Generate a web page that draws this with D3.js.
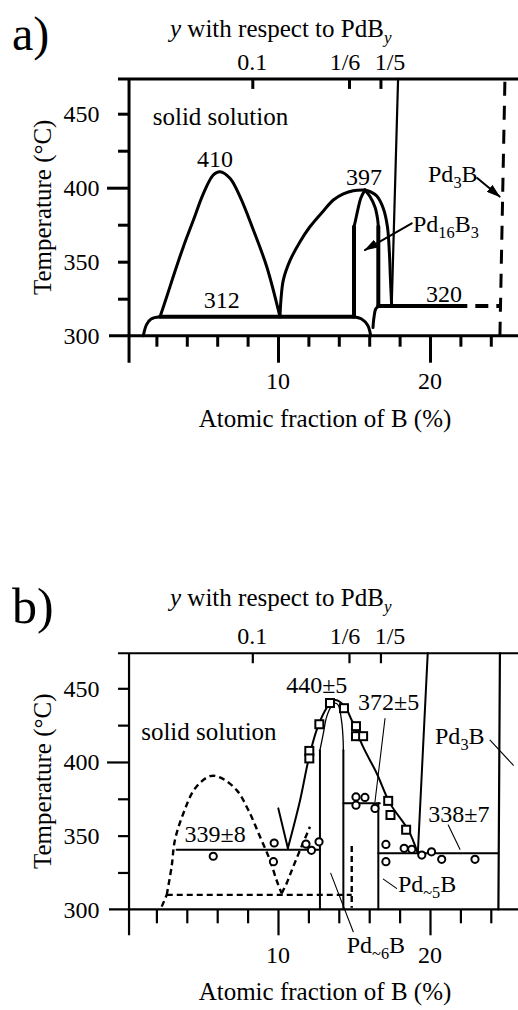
<!DOCTYPE html>
<html><head><meta charset="utf-8">
<script src="https://cdn.jsdelivr.net/npm/d3@7"></script>
<style>
body{margin:0;background:#fff}
svg{display:block}
text{font-family:"Liberation Serif","Times New Roman",serif;fill:#000}
</style>
</head><body>
<svg id="c" width="518" height="1010" font-family="Liberation Serif, Times New Roman, serif"></svg>
<script>
// ---------- shared axis data ----------
const xMinorTicks = [2,4,6,8,12,14,16,18,22,24];
const xMajorTicks = [10,20];
const yMinorTicks = [325,350,375,425,450];
const yLongTicks = [400];
const yTickLabels = [300,350,400,450];
const topTickLabels = ["0.1","1/6","1/5"];
const topTickValues = [8.31,14.67,16.74];     // atomic % positions of y = 0.1, 1/6, 1/5
const topLabelValues = [8.31,14.41,17.37];    // where the printed labels sit

// ---------- panel a data (atomic %, °C) ----------
const aDome1 = [[2.24,312.8],[2.7,327],[3.11,340],[3.77,360],[4.43,378],[5.09,396],[5.74,408.6],[6.18,410.8],[6.84,406.4],[7.5,394],[8.38,371.4],[9.26,346.6],[10.13,312.8]];
const aDome2 = [[10.13,312.8],[10.2,325],[10.35,337.6],[10.8,351],[11.45,363.5],[12.1,373.6],[13.0,384.5],[13.64,391.7],[14.3,395.8],[14.95,398],[15.72,398.4]];
const aInnerL = [[15.72,398.4],[15.45,393],[15.25,385],[15.08,377],[15.0,373.6]];
const aVertL = [[15.0,373.6],[15.0,312.8]];
const aInnerR = [[15.72,398.4],[16.05,394],[16.38,387],[16.55,379],[16.6,373.6]];
const aVertR = [[16.6,373.6],[16.6,320]];
const aOuterR = [[15.72,398.4],[16.1,397.2],[16.5,394.4],[16.93,386],[17.2,373.6],[17.33,355.7],[17.4,337.6],[17.48,320]];
const aSteep = [[17.9,473.5],[17.48,320]];
const a312CornerL = [[1.14,300],[1.35,307.5],[1.65,311.3],[2.24,312.8]];
const a312 = [[2.24,312.8],[14.95,312.8]];
const a312CornerR = [[14.95,312.8],[15.5,311.3],[15.9,307],[16.1,300]];
const a320Corner = [[16.25,305.5],[16.32,312.8],[16.45,318.5],[16.7,320]];
const a320 = [[16.6,320],[21.6,320]];
const a320Dashed = [[21.6,320],[24.6,320]];
const aPd3BDashed = [[24.6,300],[24.93,473.5]];
const aArrows = [[[18.8,375.9],[15.72,357.9]],[[23.1,406.5],[24.58,394]]];
const aTexts = [["410",5.86,414.2,"middle"],["312",6.3,318.9,"middle"],["397",15.66,401.5,"middle"],["320",20.92,323,"middle"],["solid solution",1.76,442.4,"start"]];

// ---------- panel b data ----------
const bDashDome = [[2.68,309.8],[3.0,328.9],[3.22,347],[3.77,365],[4.54,382],[5.53,390.4],[6.18,389.5],[7.28,380.9],[8.05,367.3],[8.82,349.2],[9.47,333.4],[9.9,319.9],[10.24,310.8]];
const bDashRise = [[10.24,310.8],[10.57,317.6],[11.0,328.9],[11.45,340.2],[12.1,356]];
const bDashCorner = [[2.35,301.8],[2.68,309.8]];
const bDash310 = [[2.68,309.8],[14.85,309.8]];
const bDashVert = [[14.85,343],[14.85,301]];
const b340 = [[3.33,340.5],[12.76,340.5]];
const bV = [[10.02,368.5],[10.65,341.5]];
const bLiquidus = [[10.65,341.5],[11.45,373.9],[12.0,401.2],[12.54,421.6],[13.1,435],[13.5,440.7],[13.78,442],[14.41,437.4],[14.85,428.3],[15.6,410.2],[16.5,392.2],[17.37,371.9],[18.57,353.8],[19.2,338]];
const bInnerL = [[12.76,300],[12.76,408]];
const bInnerDome = [[12.76,408],[12.98,419.3],[13.2,430.6],[13.5,437.5],[13.78,440],[13.97,438.5],[14.19,427.2],[14.28,416],[14.3,408]];
const bInnerR = [[14.3,408],[14.3,300]];
const b372 = [[14.3,372],[16.7,372]];
const b372Vert = [[16.6,372],[16.6,300]];
const b338 = [[16.6,338],[24.5,338]];
const bSteep = [[19.85,473.8],[19.2,338]];
const bPd3BLine = [[24.5,300],[24.6,473.8]];
const bSquares = [[13.42,440],[14.34,436.5],[12.72,425.6],[12.06,407.5],[12.06,402.4],[15.13,424.3],[15.13,417.5],[15.6,417.5],[17.25,373.6],[17.4,364],[18.43,354]];
const bCircles = [[5.74,336],[9.75,345],[9.7,332.3],[11.84,344.3],[12.2,340],[12.7,345.8],[15.13,376.3],[15.72,375.9],[15.13,370.7],[16.38,368.5],[17.1,344],[17.1,332.3],[18.3,341.4],[18.8,340.7],[19.46,336.8],[20.1,339],[20.77,333.9],[22.96,333.9]];
const bLeaders = [[[17.04,429.5],[16.38,373]],[[21.2,357.2],[21.97,340.7]],[[23.95,414.8],[25.48,397.8]],[[16.93,320.5],[17.8,314.2]],[[13.47,324.4],[14.95,284.8]]];
const bTexts = [["solid solution",1.0,414.9,"start"],["440±5",12.55,446.6,"middle"],["372±5",17.28,435.3,"middle"],["339±8",5.86,345.9,"middle"],["338±7",21.9,359.5,"middle"]];

// ---------- drawing ----------
const W = 518;
const FONT = "Liberation Serif, Times New Roman, serif";
const svg = d3.select("#c");
const x = d3.scaleLinear().domain([0,25]).range([126,506]);
const xLeft = 0.2;
const yA = d3.scaleLinear().domain([300,450]).range([335.7,113.7]);
const yB = d3.scaleLinear().domain([300,450]).range([909.3,688.3]);

svg.append("defs").append("marker").attr("id","arr").attr("viewBox","0 0 14 9")
  .attr("refX",13).attr("refY",4.5).attr("markerWidth",14).attr("markerHeight",9)
  .attr("markerUnits","userSpaceOnUse").attr("orient","auto")
  .append("path").attr("d","M0,0 L14,4.5 L0,9 Z").attr("fill","#000");

function drawAxes(y, o) {
  const g = svg.append("g").attr("font-family",FONT);
  const yTop = y(o.top), y0 = y(300), xl = x(xLeft);
  const st = sel => sel.attr("stroke","#000").attr("stroke-width",o.aw);
  st(g.append("line").attr("x1",118).attr("x2",W).attr("y1",yTop).attr("y2",yTop));
  st(g.append("line").attr("x1",109).attr("x2",W).attr("y1",y0).attr("y2",y0));
  st(g.append("line").attr("x1",xl).attr("x2",xl).attr("y1",yTop).attr("y2",y0+o.majLen));

  const fix = sel => { sel.select(".domain").remove(); sel.selectAll("line").attr("stroke","#000").attr("stroke-width",o.aw); };
  g.append("g").attr("transform",`translate(${xl},0)`).call(d3.axisLeft(y).tickValues(yMinorTicks).tickSize(11).tickFormat("")).call(fix);
  g.append("g").attr("transform",`translate(${xl},0)`).call(d3.axisLeft(y).tickValues(yLongTicks).tickSize(22).tickFormat("")).call(fix);
  g.append("g").attr("transform",`translate(0,${y0})`).call(d3.axisBottom(x).tickValues(xMinorTicks).tickSize(o.minLen).tickFormat("")).call(fix);
  g.append("g").attr("transform",`translate(0,${y0})`).call(d3.axisBottom(x).tickValues(xMajorTicks).tickSize(o.majLen).tickFormat("")).call(fix);
  g.append("g").attr("transform",`translate(0,${yTop})`).call(d3.axisBottom(x).tickValues(topTickValues).tickSize(10).tickFormat("")).call(fix);

  g.selectAll(".ylab").data(yTickLabels).join("text").attr("x",99.5).attr("y",d=>y(d)+8.5)
    .attr("text-anchor","end").attr("font-size",24).text(d=>d);
  g.selectAll(".xlab").data(xMajorTicks).join("text").attr("x",d=>x(d)).attr("y",y0+53.5)
    .attr("text-anchor","middle").attr("font-size",24).text(d=>d);
  g.selectAll(".tlab").data(topTickLabels).join("text").attr("x",(d,i)=>x(topLabelValues[i])).attr("y",yTop-9.3)
    .attr("text-anchor","middle").attr("font-size",24).text(d=>d);

  const t = g.append("text").attr("x",170).attr("y",yTop+o.titleDy).attr("font-size",25);
  t.append("tspan").attr("font-style","italic").text("y");
  t.append("tspan").text(" with respect to PdB");
  t.append("tspan").attr("font-style","italic").attr("font-size",17).attr("dy",6).text("y");

  g.append("text").attr("transform",`translate(51,${(yTop+y0)/2}) rotate(-90)`).attr("text-anchor","middle")
    .attr("font-size",25).text("Temperature (°C)");
  g.append("text").attr("x",325).attr("y",y0+o.xlabDy).attr("text-anchor","middle").attr("font-size",25)
    .text("Atomic fraction of B (%)");
  g.append("text").attr("x",12).attr("y",o.letterY).attr("font-size",o.letterSize).text(o.letter);
  return g;
}

function path(g, y, data, w, curve, dash) {
  const line = d3.line().x(d=>x(d[0])).y(d=>y(d[1])).curve(curve || d3.curveLinear);
  const p = g.append("path").attr("d",line(data)).attr("fill","none").attr("stroke","#000")
    .attr("stroke-width",w).attr("stroke-linejoin","round").attr("stroke-linecap", dash ? "butt" : "round");
  if (dash) p.attr("stroke-dasharray",dash);
  return p;
}

function subText(g, y, v, T, parts, fs) {
  const t = g.append("text").attr("x",x(v)).attr("y",y(T)).attr("font-size",fs);
  let down = false;
  parts.forEach(([s,sub]) => {
    const sp = t.append("tspan").text(s);
    if (sub) { sp.attr("font-size",fs*0.68); if (!down) { sp.attr("dy",6); down = true; } }
    else if (down) { sp.attr("dy",-6); down = false; }
  });
}

// ----- panel a -----
const ga = drawAxes(yA, {top:473.5, aw:3, minLen:11, majLen:27, titleDy:-42, xlabDy:91.6, letter:"a)", letterY:50, letterSize:48});
const cr = d3.curveCatmullRom.alpha(0.5);
path(ga, yA, aDome1, 3, cr);
path(ga, yA, aDome2, 3, cr);
path(ga, yA, aInnerL, 3, cr);
path(ga, yA, aInnerR, 3, cr);
path(ga, yA, aOuterR, 3, cr);
path(ga, yA, aVertL, 4);
path(ga, yA, aVertR, 4);
path(ga, yA, aSteep, 2.2);
path(ga, yA, a312CornerL, 3, cr);
path(ga, yA, a312, 4);
path(ga, yA, a312CornerR, 3, cr);
path(ga, yA, a320Corner, 3, cr);
path(ga, yA, a320, 4);
path(ga, yA, a320Dashed, 4, null, "13,8");
path(ga, yA, aPd3BDashed, 3, null, "14,10");
aArrows.forEach(a => path(ga, yA, a, 2).attr("marker-end","url(#arr)"));
aTexts.forEach(([s,v,T,anc]) => ga.append("text").attr("x",x(v)).attr("y",yA(T)).attr("text-anchor",anc)
  .attr("font-size", s==="solid solution"?25:24).text(s));
subText(ga, yA, 19.87, 403.9, [["Pd"],["3",1],["B"]], 24);
subText(ga, yA, 18.88, 370, [["Pd"],["16",1],["B"],["3",1]], 24);

// ----- panel b -----
const gb = drawAxes(yB, {top:473.8, aw:2.2, minLen:14, majLen:26, titleDy:-47.3, xlabDy:91, letter:"b)", letterY:623, letterSize:50});
path(gb, yB, bDashDome, 2.4, cr, "6,4");
path(gb, yB, bDashRise, 2.4, null, "6,4");
path(gb, yB, bDashCorner, 2.4, null, "6,4");
path(gb, yB, bDash310, 2.4, null, "6,4");
path(gb, yB, bDashVert, 2.4, null, "6,4");
path(gb, yB, b340, 2);
path(gb, yB, bV, 2);
path(gb, yB, bLiquidus, 2, cr);
path(gb, yB, bInnerL, 2);
path(gb, yB, bInnerDome, 1.3, cr);
path(gb, yB, bInnerR, 2);
path(gb, yB, b372, 2);
path(gb, yB, b372Vert, 2);
path(gb, yB, b338, 2);
path(gb, yB, bSteep, 2);
path(gb, yB, bPd3BLine, 2.2);
bLeaders.forEach(l => path(gb, yB, l, 1.1));
gb.selectAll(".sq").data(bSquares).join("rect").attr("x",d=>x(d[0])-4).attr("y",d=>yB(d[1])-4)
  .attr("width",8).attr("height",8).attr("fill","#fff").attr("stroke","#000").attr("stroke-width",2);
gb.selectAll(".ci").data(bCircles).join("circle").attr("cx",d=>x(d[0])).attr("cy",d=>yB(d[1])).attr("r",3.6)
  .attr("fill","#fff").attr("stroke","#000").attr("stroke-width",2);
bTexts.forEach(([s,v,T,anc]) => gb.append("text").attr("x",x(v)).attr("y",yB(T)).attr("text-anchor",anc)
  .attr("font-size", s==="solid solution"?25:24).text(s));
subText(gb, yB, 20.33, 412, [["Pd"],["3",1],["B"]], 24);
subText(gb, yB, 17.89, 311.9, [["Pd"],["~5",1],["B"]], 24);
subText(gb, yB, 14.52, 270.5, [["Pd"],["~6",1],["B"]], 24);
</script>
</body></html>
